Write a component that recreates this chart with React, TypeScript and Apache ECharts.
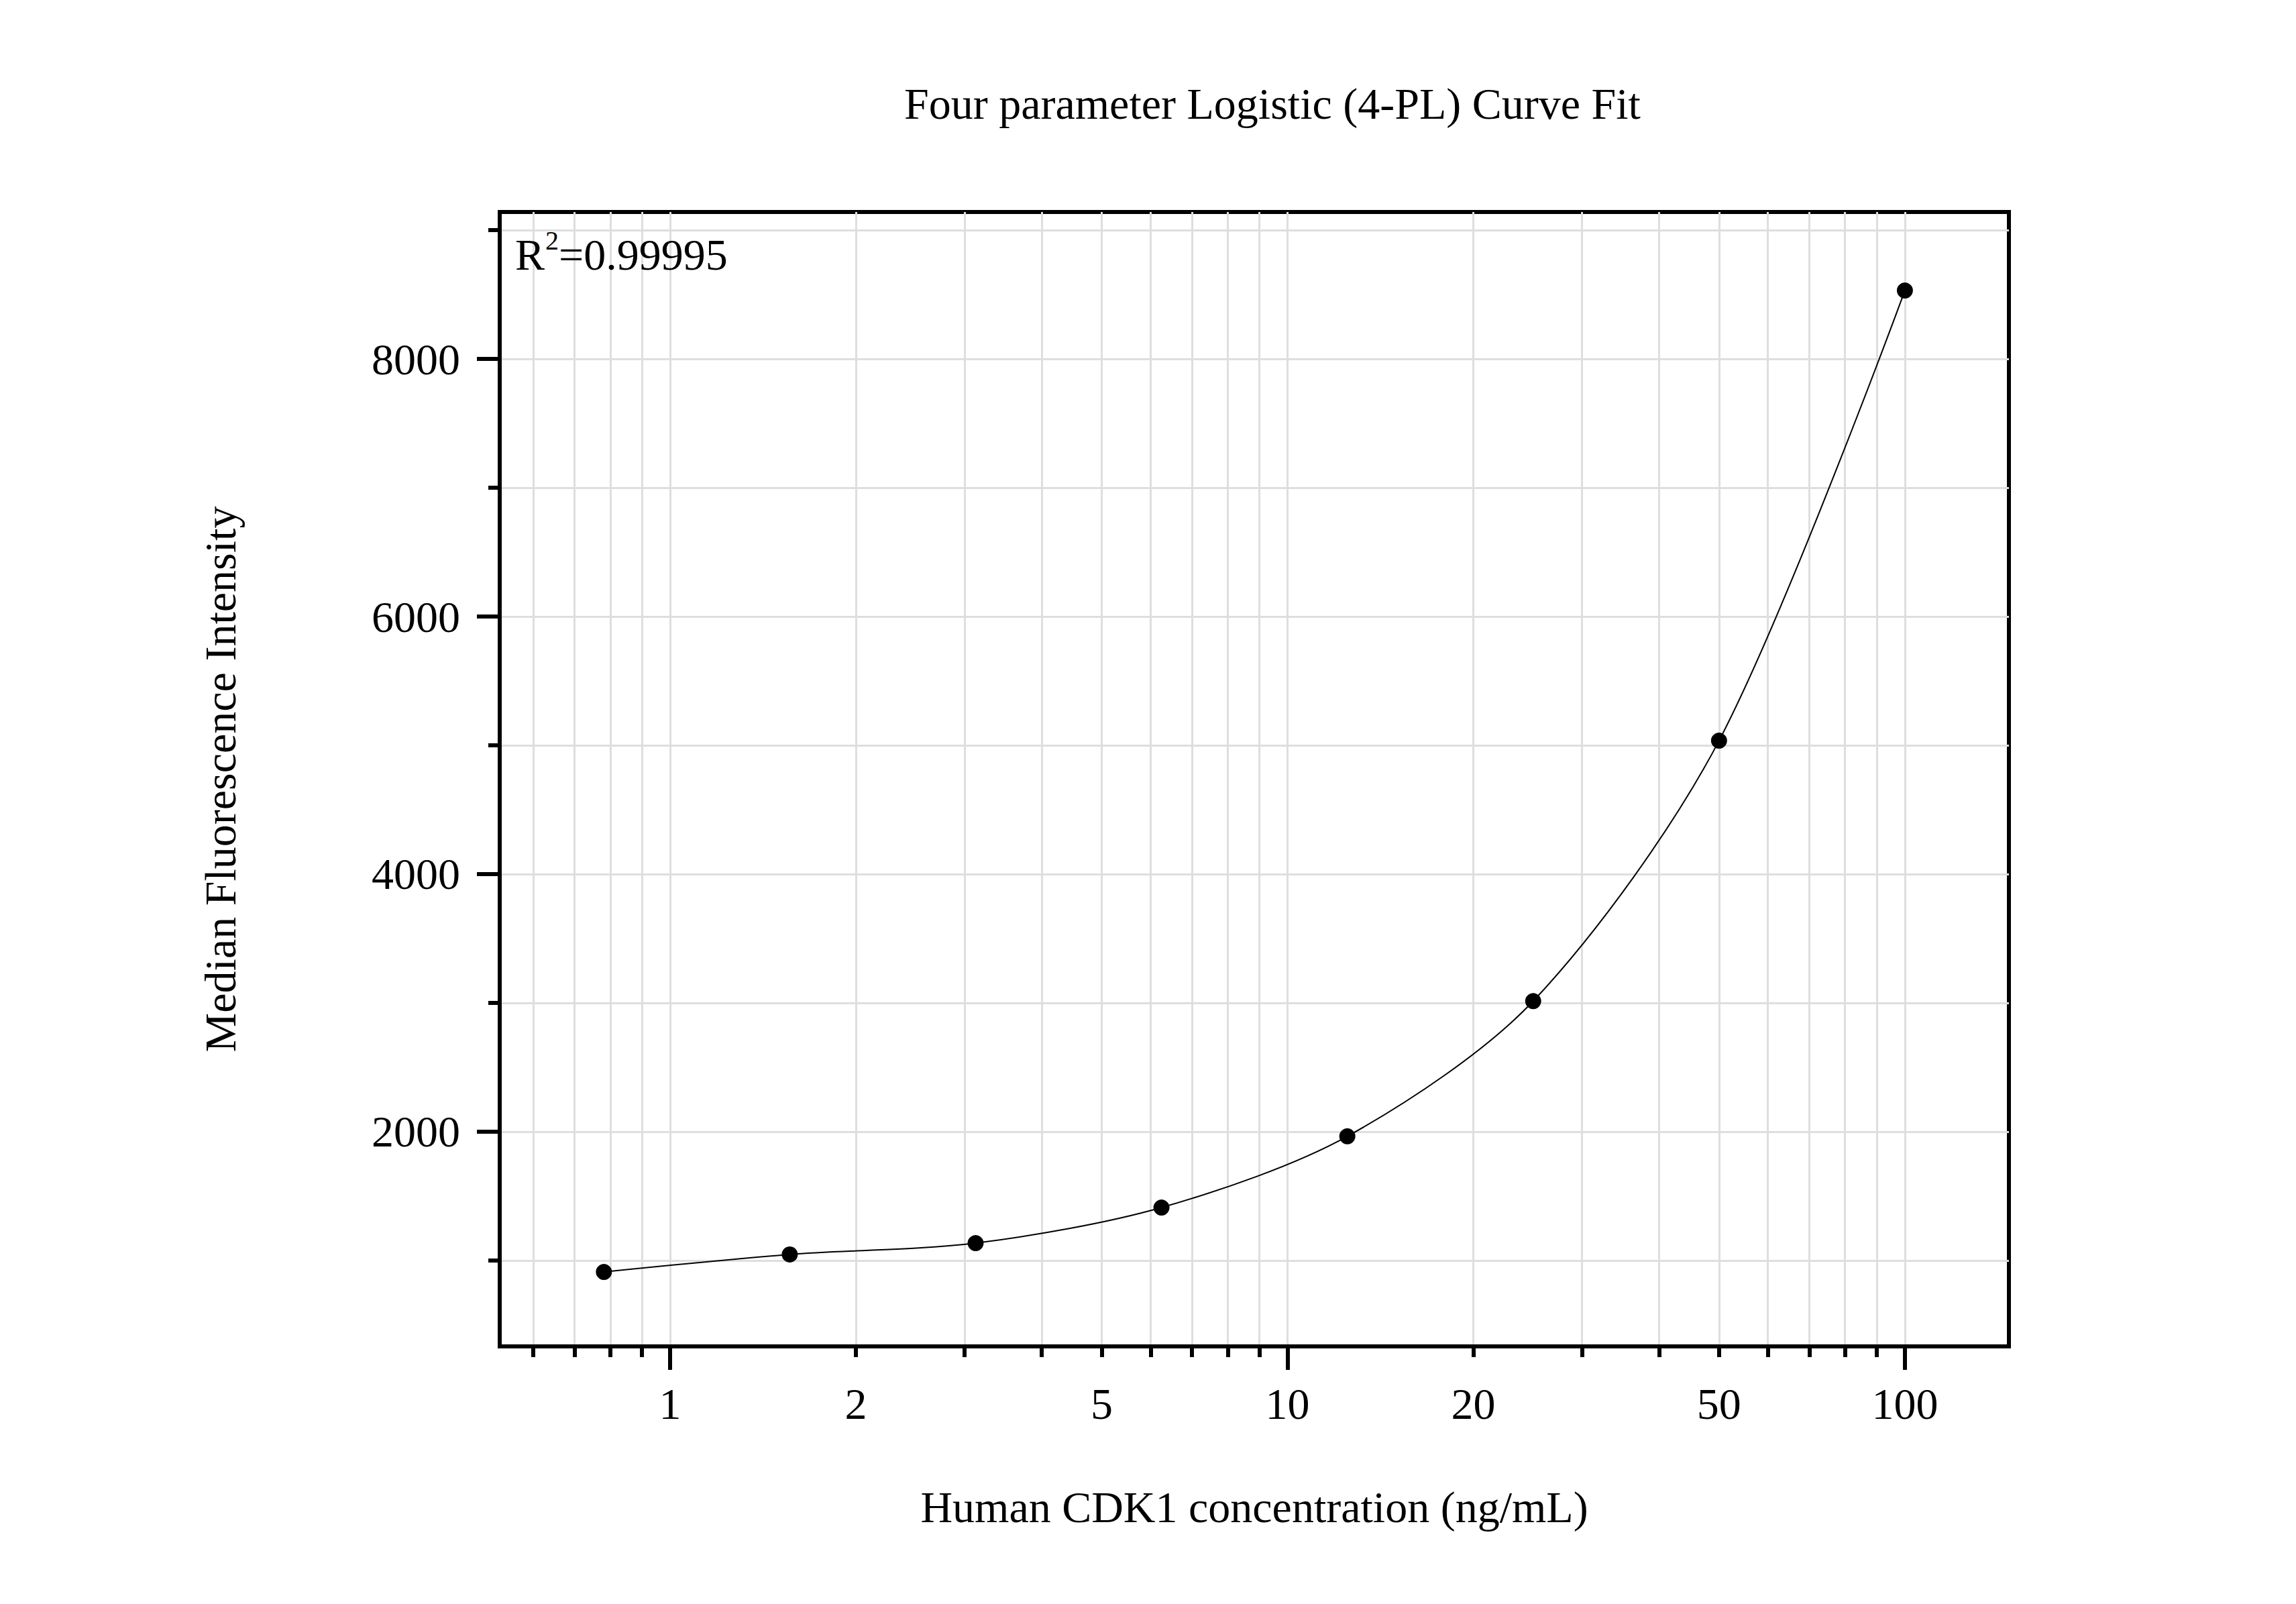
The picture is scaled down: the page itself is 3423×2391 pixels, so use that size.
import React, { useEffect, useRef } from "react";
import * as echarts from "echarts";

// ---- data ----
const concentrations = [0.78125, 1.5625, 3.125, 6.25, 12.5, 25, 50, 100];
const mfiValues = [911, 1047, 1135, 1411, 1964, 3014, 5036, 8531];

const xLabelValues = [1, 2, 5, 10, 20, 50, 100];
const xMajorTicks = [1, 10, 100];
const xMinorTicks = [0.6, 0.7, 0.8, 0.9, 2, 3, 4, 5, 6, 7, 8, 9, 20, 30, 40, 50, 60, 70, 80, 90];
const yMajorTicks = [2000, 4000, 6000, 8000];
const yMinorTicks = [1000, 3000, 5000, 7000, 9000];
const xRange = [0.5297, 147.4];
const yRange = [333, 9141];

const titleText = "Four parameter Logistic (4-PL) Curve Fit";
const xTitle = "Human CDK1 concentration (ng/mL)";
const yTitle = "Median Fluorescence Intensity";
const rSquaredValue = "0.99995";

const FONT = "'Liberation Serif', 'Times New Roman', serif";
const FS = 66;

export default function App() {
  const ref = useRef<HTMLDivElement>(null);

  useEffect(() => {
    if (!ref.current) return;
    const chart = echarts.init(ref.current, undefined, { renderer: "svg" });
    const points = concentrations.map((c, i) => [c, mfiValues[i]]);
    const gridLine = { show: true, lineStyle: { color: "#dedede", width: 3 } };
    const textBase = { color: "#000", fontFamily: FONT, fontSize: FS, lineHeight: FS };

    chart.setOption({
      animation: false,
      backgroundColor: "#fff",
      title: {
        text: titleText,
        left: 1335,
        top: 108,
        textStyle: { ...textBase, fontWeight: "normal" },
      },
      grid: {
        left: 737,
        top: 308,
        width: 2250,
        height: 1691,
        show: true,
        borderColor: "#000",
        borderWidth: 6,
        backgroundColor: "transparent",
        containLabel: false,
      },
      xAxis: [
        {
          type: "log",
          logBase: 10,
          min: xRange[0],
          max: xRange[1],
          position: "bottom",
          name: xTitle,
          nameLocation: "middle",
          nameGap: 206,
          nameTextStyle: { ...textBase },
          axisLine: { show: true, lineStyle: { color: "#000", width: 6 } },
          axisTick: { show: true, inside: false, length: 35, customValues: xMajorTicks, lineStyle: { color: "#000", width: 6 } },
          axisLabel: { show: true, customValues: xLabelValues, margin: 52, ...textBase, formatter: (v: number) => String(v) },
          splitLine: gridLine,
          minorTick: { show: false },
        },
        {
          type: "log",
          logBase: 10,
          min: xRange[0],
          max: xRange[1],
          position: "bottom",
          axisLine: { show: true, lineStyle: { color: "#000", width: 6 } },
          axisTick: { show: true, inside: false, length: 16, customValues: xMinorTicks, lineStyle: { color: "#000", width: 6 } },
          axisLabel: { show: false },
          splitLine: gridLine,
        },
      ],
      yAxis: [
        {
          type: "value",
          min: yRange[0],
          max: yRange[1],
          position: "left",
          name: yTitle,
          nameLocation: "middle",
          nameGap: 384,
          nameTextStyle: { ...textBase },
          axisLine: { show: true, lineStyle: { color: "#000", width: 6 } },
          axisTick: { show: true, inside: false, length: 34, customValues: yMajorTicks, lineStyle: { color: "#000", width: 6 } },
          axisLabel: { show: true, customValues: yMajorTicks, margin: 59, ...textBase, formatter: (v: number) => String(v) },
          splitLine: gridLine,
        },
        {
          type: "value",
          min: yRange[0],
          max: yRange[1],
          position: "left",
          axisLine: { show: true, lineStyle: { color: "#000", width: 6 } },
          axisTick: { show: true, inside: false, length: 17, customValues: yMinorTicks, lineStyle: { color: "#000", width: 6 } },
          axisLabel: { show: false },
          splitLine: gridLine,
        },
      ],
      graphic: [
        {
          type: "text",
          x: 760,
          y: 371,
          style: { text: "R", fill: "#000", font: `${FS}px ${FONT}`, verticalAlign: "middle", align: "left" },
          z: 100,
        },
        {
          type: "text",
          x: 805,
          y: 350,
          style: { text: "2", fill: "#000", font: `40px ${FONT}`, verticalAlign: "middle", align: "left" },
          z: 100,
        },
        {
          type: "text",
          x: 825,
          y: 371,
          style: { text: "=" + rSquaredValue, fill: "#000", font: `${FS}px ${FONT}`, verticalAlign: "middle", align: "left" },
          z: 100,
        },
      ],
      series: [
        {
          type: "line",
          xAxisIndex: 0,
          yAxisIndex: 0,
          data: points,
          smooth: 0.3,
          showSymbol: false,
          symbol: "none",
          lineStyle: { color: "#000", width: 2 },
          z: 3,
        },
        {
          type: "scatter",
          xAxisIndex: 0,
          yAxisIndex: 0,
          data: points,
          symbol: "circle",
          symbolSize: 24,
          itemStyle: { color: "#000", opacity: 1 },
          z: 4,
        },
      ],
    });

    return () => chart.dispose();
  }, []);

  return <div ref={ref} style={{ width: 3407, height: 2375 }} />;
}
